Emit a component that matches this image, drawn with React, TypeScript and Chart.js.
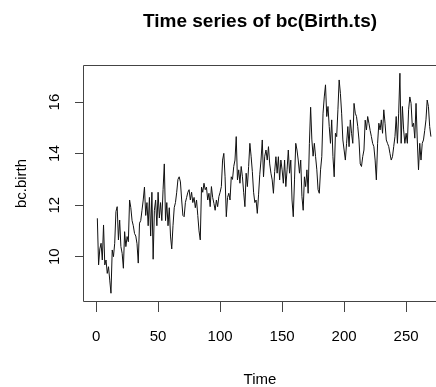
import React, { useEffect, useRef } from "react";
import { Chart, registerables } from "chart.js";

Chart.register(...registerables);

const TITLE = "Time series of bc(Birth.ts)";
const X_TITLE = "Time";
const Y_TITLE = "bc.birth";
const X_TICKS = [0, 50, 100, 150, 200, 250];
const Y_TICKS = [10, 12, 14, 16];
const TIME_START = 1;
const X_MIN = -9.76;
const X_MAX = 274.1;
const Y_MIN = 8.24;
const Y_MAX = 17.44;

const BIRTH = [
  11.49, 9.68, 10.3, 10.52, 9.87, 11.23, 9.68, 9.87, 9.35, 9.61,
  9.09, 8.58, 10.26, 10.0, 10.52, 11.75, 11.94, 10.65, 11.42, 10.39,
  10.13, 9.55, 10.97, 10.39, 10.78, 10.58, 12.2, 11.9, 11.4, 11.2,
  10.9, 10.8, 10.5, 9.75, 11.3, 11.4, 11.8, 12.2, 12.7, 11.6,
  12.1, 11.2, 12.3, 10.8, 12.5, 9.9, 11.8, 12.2, 11.2, 12.5,
  11.5, 12.1, 11.4, 12.6, 13.6, 11.4, 12.1, 11.2, 11.9, 10.8,
  10.3, 11.2, 11.9, 12.1, 12.5, 13.0, 13.1, 12.9, 12.2, 11.6,
  11.55, 12.1, 12.3, 12.5, 12.6, 12.2, 12.5, 12.1, 12.3, 11.9,
  12.2, 11.6, 11.0, 10.65, 12.7, 12.5, 12.85, 12.6, 12.7, 12.2,
  12.46, 11.94, 12.72, 12.3, 12.07, 11.8, 12.2, 11.94, 12.33, 12.5,
  12.72, 13.75, 14.01, 13.1, 11.55, 12.3, 12.46, 12.2, 13.1, 13.0,
  13.5, 13.75, 14.66, 12.98, 13.37, 12.85, 13.5, 13.1, 12.5, 11.94,
  13.24, 12.72, 13.5, 14.4, 13.9, 13.3, 12.5, 12.1, 12.2, 11.68,
  12.4, 13.2, 13.75, 14.53, 13.1, 13.9, 14.14, 13.75, 14.27, 13.6,
  13.24, 12.98, 12.46, 13.3, 13.88, 13.24, 13.88, 12.98, 13.75, 13.37,
  12.85, 13.75, 12.72, 13.37, 14.14, 13.24, 13.75, 12.2, 11.55, 12.98,
  14.4, 14.14, 13.75, 13.24, 13.75, 12.33, 11.8, 13.1, 12.72, 13.37,
  12.46, 14.4, 15.8, 14.53, 13.9, 14.4, 13.88, 13.37, 12.6, 12.46,
  13.37, 13.88, 15.57, 16.2, 16.67, 15.44, 15.83, 15.05, 14.4, 15.31,
  13.88, 13.1, 14.79, 14.66, 15.7, 16.86, 16.34, 15.57, 14.53, 14.14,
  13.75, 14.4, 15.05, 14.27, 15.31, 14.79, 14.4, 15.95, 15.57, 15.44,
  15.05, 14.53, 13.6, 13.5, 13.88, 14.14, 15.3, 14.92, 15.44, 15.18,
  14.9, 14.66, 14.4, 14.27, 13.75, 12.98, 14.4, 15.18, 14.92, 15.31,
  14.79, 15.7, 15.18, 14.53, 14.4, 14.27, 14.0, 13.75, 13.88, 14.27,
  14.66, 15.44, 14.4, 15.57, 17.12, 14.4, 15.83, 14.92, 14.4, 14.79,
  14.4, 15.7, 16.2, 15.95, 15.05, 15.18, 14.6, 15.95, 14.53, 13.37,
  14.4, 13.75, 14.4, 14.53, 14.9, 15.31, 16.08, 15.83, 15.05, 14.66,
];

const FONT = "'Liberation Sans', Arial, Helvetica, sans-serif";
const FRAME = "#444";

const framePlugin = {
  id: "rframe",
  afterDraw(chart: any) {
    const { ctx, chartArea } = chart;
    const { left, top, right, bottom } = chartArea;
    ctx.save();
    ctx.strokeStyle = FRAME;
    ctx.lineWidth = 1;
    ctx.beginPath();
    ctx.moveTo(right + 10, top + 0.5);
    ctx.lineTo(left - 0.5, top + 0.5);
    ctx.lineTo(left - 0.5, bottom - 0.5);
    ctx.lineTo(right + 10, bottom - 0.5);
    ctx.stroke();
    ctx.restore();
  },
};

export default function App() {
  const ref = useRef<HTMLCanvasElement | null>(null);

  useEffect(() => {
    const canvas = ref.current;
    if (!canvas) return;
    const chart = new Chart(canvas, {
      type: "line",
      data: {
        datasets: [
          {
            data: BIRTH.map((v, i) => ({ x: TIME_START + i, y: v })),
            borderColor: "#111",
            borderWidth: 1,
            pointRadius: 0,
            tension: 0,
            fill: false,
          },
        ],
      },
      options: {
        responsive: false,
        animation: false,
        events: [],
        layout: { padding: 0 },
        plugins: {
          legend: { display: false },
          tooltip: { enabled: false },
          title: {
            display: true,
            text: TITLE,
            fullSize: false,
            color: "#000",
            font: { family: FONT, size: 19, weight: "bold" },
            padding: { top: 10.6, bottom: 31.6 },
          },
        },
        scales: {
          x: {
            type: "linear",
            min: X_MIN,
            max: X_MAX,
            afterBuildTicks: (s: any) => {
              s.ticks = X_TICKS.map((v) => ({ value: v }));
            },
            afterFit: (s: any) => {
              s.height = 85;
            },
            border: { display: false },
            grid: {
              display: true,
              drawOnChartArea: false,
              drawTicks: true,
              tickLength: 10,
              tickColor: FRAME,
              tickWidth: 1,
            },
            ticks: {
              color: "#000",
              font: { family: FONT, size: 15 },
              padding: 16,
              maxRotation: 0,
              autoSkip: false,
            },
            title: {
              display: true,
              text: X_TITLE,
              color: "#000",
              font: { family: FONT, size: 15 },
              padding: { top: 0, bottom: -2 },
            },
          },
          y: {
            type: "linear",
            min: Y_MIN,
            max: Y_MAX,
            afterBuildTicks: (s: any) => {
              s.ticks = Y_TICKS.map((v) => ({ value: v }));
            },
            afterFit: (s: any) => {
              s.width = 84;
            },
            border: { display: false },
            grid: {
              display: true,
              drawOnChartArea: false,
              drawTicks: true,
              tickLength: 9,
              tickColor: FRAME,
              tickWidth: 1,
            },
            ticks: {
              color: "#000",
              font: { family: FONT, size: 15 },
              padding: 12,
              minRotation: 90,
              maxRotation: 90,
              crossAlign: "center",
              autoSkip: false,
            },
            title: {
              display: true,
              text: Y_TITLE,
              color: "#000",
              font: { family: FONT, size: 15 },
              padding: { top: 13, bottom: 0 },
            },
          },
        },
      },
      plugins: [framePlugin],
    } as any);
    return () => chart.destroy();
  }, []);

  return (
    <div style={{ position: "absolute", left: 0, top: 0, width: 436, height: 387, background: "#fff", overflow: "hidden" }}>
      <canvas ref={ref} width={436} height={387} style={{ display: "block", width: 436, height: 387 }} />
    </div>
  );
}
